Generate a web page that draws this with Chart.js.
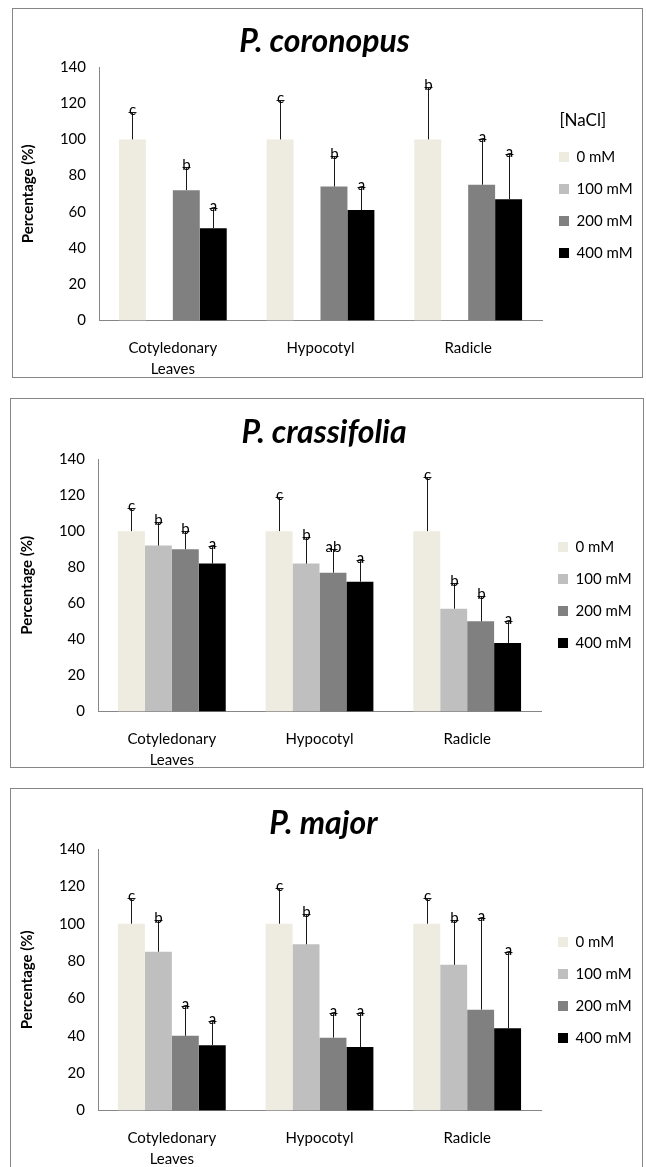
<!DOCTYPE html>
<html>
<head>
<meta charset="utf-8">
<script src="https://cdn.jsdelivr.net/npm/chart.js@4.4.1/dist/chart.umd.min.js"></script>
<style>
  html, body { margin: 0; padding: 0; background: #fff; overflow: hidden; }
  .panel { position: absolute; border: 1px solid #868686; box-sizing: border-box; }
  .panel canvas { position: absolute; left: 0; top: 0; }
</style>
</head>
<body>
<div class="panel" style="left:12px;top:8px;width:631px;height:370px;"><canvas id="c1" width="629" height="388"></canvas></div>
<div class="panel" style="left:10px;top:398px;width:634px;height:370px;"><canvas id="c2" width="632" height="389"></canvas></div>
<div class="panel" style="left:10px;top:788px;width:633px;height:392px;"><canvas id="c3" width="631" height="398"></canvas></div>
<script>
const categories = [['Cotyledonary', 'Leaves'], 'Hypocotyl', 'Radicle'];
const concentrations = ['0 mM', '100 mM', '200 mM', '400 mM'];
const barColors = ['#EEECE1', '#BFBFBF', '#808080', '#000000'];

// one row per NaCl concentration, one column per organ
const coronopusValues = [[100, 100, 100], [null, null, null], [72, 74, 75], [51, 61, 67]];
const coronopusErrors = [[15, 22, 29], [0, 0, 0], [13, 17, 25], [11, 13, 25]];
const coronopusLetters = [['c', 'c', 'b'], ['', '', ''], ['b', 'b', 'a'], ['a', 'a', 'a']];

const crassifoliaValues = [[100, 100, 100], [92, 82, 57], [90, 77, 50], [82, 72, 38]];
const crassifoliaErrors = [[13, 19, 30], [13, 15, 14], [10, 13, 14], [10, 12, 12]];
const crassifoliaLetters = [['c', 'c', 'c'], ['b', 'b', 'b'], ['b', 'ab', 'b'], ['a', 'a', 'a']];

const majorValues = [[100, 100, 100], [85, 89, 78], [40, 39, 54], [35, 34, 44]];
const majorErrors = [[14, 19, 14], [17, 16, 24], [16, 13, 49], [13, 18, 41]];
const majorLetters = [['c', 'c', 'c'], ['b', 'b', 'b'], ['a', 'a', 'a'], ['a', 'a', 'a']];

const yMax = 140;
const yStep = 20;

// upward error bars with the significance letter on top
const errorBars = {
  id: 'errorBars',
  afterDatasetsDraw(chart) {
    const { ctx } = chart;
    const y = chart.scales.y;
    ctx.save();
    ctx.strokeStyle = '#1a1a1a';
    ctx.lineWidth = 1;
    ctx.fillStyle = '#000';
    ctx.font = '15px Lato';
    ctx.textAlign = 'center';
    ctx.textBaseline = 'alphabetic';
    chart.data.datasets.forEach((ds, i) => {
      chart.getDatasetMeta(i).data.forEach((bar, j) => {
        const v = ds.data[j];
        if (v == null) return;
        const top = Math.round(y.getPixelForValue(v + ds.errors[j])) + 0.5;
        const x = Math.round(bar.x) + 0.5;
        ctx.beginPath();
        ctx.moveTo(x, bar.y);
        ctx.lineTo(x, top);
        ctx.moveTo(x - 4, top);
        ctx.lineTo(x + 4, top);
        ctx.stroke();
        ctx.fillText(ds.letters[j], x, top + 2);
      });
    });
    ctx.restore();
  }
};

function drawPanel(p) {
  const datasets = concentrations.map((c, i) => ({
    label: c,
    data: p.values[i],
    errors: p.errors[i],
    letters: p.letters[i],
    backgroundColor: barColors[i],
    borderWidth: 0,
    categoryPercentage: 0.73,
    barPercentage: 1.0
  }));

  new Chart(document.getElementById(p.id), {
    type: 'bar',
    data: { labels: categories, datasets },
    plugins: [errorBars],
    options: {
      responsive: false,
      animation: false,
      devicePixelRatio: 1,
      layout: { padding: { left: 0, right: 6, top: 0, bottom: 0 } },
      plugins: {
        tooltip: { enabled: false },
        title: {
          display: true,
          text: p.title,
          color: '#000',
          font: { size: 32, weight: 'bold', style: 'italic' },
          padding: p.titlePad
        },
        legend: {
          position: 'right',
          align: 'start',
          fullSize: false,
          maxWidth: p.legendMax,
          title: {
            display: true,
            text: p.legendTitle,
            position: 'start',
            color: '#000',
            font: { size: 17 },
            padding: p.legendTitlePad
          },
          labels: {
            boxWidth: 10,
            boxHeight: 10,
            padding: 17,
            color: '#000',
            font: { size: 15 }
          }
        }
      },
      scales: {
        x: {
          grid: { display: false, drawTicks: false },
          border: { color: '#868686', width: 1 },
          ticks: { color: '#000', font: { size: 15, lineHeight: 1.35 }, padding: 18, maxRotation: 0 }
        },
        y: {
          min: 0,
          max: yMax,
          afterFit(s) { s.width = p.axisWidth; },
          grid: { display: false, drawTicks: false },
          border: { color: '#868686', width: 1 },
          ticks: { stepSize: yStep, color: '#000', font: { size: 15 }, padding: 13 },
          title: {
            display: true,
            text: 'Percentage (%)',
            color: '#000',
            font: { size: 15, weight: 'bold' },
            padding: { top: p.yTitlePad, bottom: 0 }
          }
        }
      }
    }
  });
}

Chart.defaults.font.family = 'Lato';

const panels = [
  { id: 'c1', title: 'P. coronopus', values: coronopusValues, errors: coronopusErrors, letters: coronopusLetters,
    axisWidth: 86, yTitlePad: 6, titlePad: { top: 13.8, bottom: 5.8 }, legendMax: 94,
    legendTitle: '    [NaCl]', legendTitlePad: { top: 45, bottom: 0 } },
  { id: 'c2', title: 'P. crassifolia', values: crassifoliaValues, errors: crassifoliaErrors, letters: crassifoliaLetters,
    axisWidth: 87, yTitlePad: 7, titlePad: { top: 14.8, bottom: 6.8 }, legendMax: 96,
    legendTitle: '', legendTitlePad: { top: 43, bottom: 0 } },
  { id: 'c3', title: 'P. major', values: majorValues, errors: majorErrors, letters: majorLetters,
    axisWidth: 87, yTitlePad: 7, titlePad: { top: 15.8, bottom: 5.8 }, legendMax: 95,
    legendTitle: '', legendTitlePad: { top: 48, bottom: 0 } }
];

Promise.all([
  document.fonts.load('15px Lato'),
  document.fonts.load('bold 15px Lato'),
  document.fonts.load('bold italic 32px Lato')
]).catch(() => {}).then(() => panels.forEach(drawPanel));
</script>
</body>
</html>
